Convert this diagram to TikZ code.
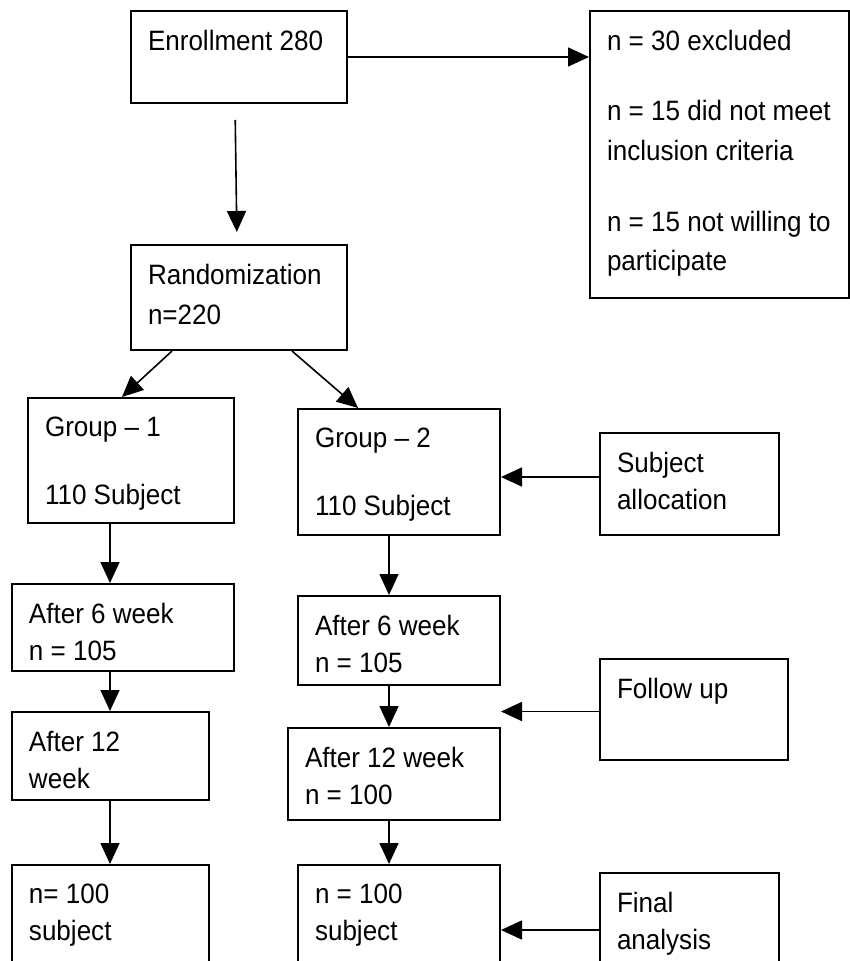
\documentclass[tikz,border=0pt]{standalone}
\usepackage{fontspec}
\setmainfont{Liberation Sans}[FakeStretch=0.93]
\usetikzlibrary{arrows.meta}
\newcommand{\boxtext}[3]{\parbox[t][#2pt][t]{#1pt}{\raggedright\leftskip=17pt\vspace*{19pt}#3}}
\tikzset{
  cbox/.style={draw, line width=2pt, anchor=north west, inner sep=0pt,
    font=\fontsize{28pt}{37pt}\selectfont},
  arr/.style={-{Triangle[length=21pt,width=19pt]}, line width=1.6pt}
}
\begin{document}
\begin{tikzpicture}[x=1pt,y=-1pt]
      \useasboundingbox (0,0) rectangle (850,961);
      \clip (0,0) rectangle (850,961);
      \draw
        (130,10) node[cbox] (enrol){\boxtext{216}{92}{Enrollment 280}}
        (589,10) node[cbox] (excl){\boxtext{259}{287}{n = 30 excluded\\[33pt]n = 15 did not meet\\[3pt]inclusion criteria\\[34pt]n = 15 not willing to\\[2pt]participate}}
        (130,244) node[cbox] (rand){\boxtext{216}{105}{Randomization\\[3pt]n=220}}
        (27,397) node[cbox] (g1){\boxtext{206}{125}{Group -- 1\\[31pt]110 Subject}}
        (297,408) node[cbox] (g2){\boxtext{202}{126}{Group -- 2\\[31pt]110 Subject}}
        (599,432) node[cbox] (alloc){\boxtext{179}{102}{Subject\\allocation}}
        (11,583) node[cbox] (g1w6){\boxtext{222}{87}{After 6 week\\n = 105}}
        (297,595) node[cbox] (g2w6){\boxtext{202}{89}{After 6 week\\n = 105}}
        (599,658) node[cbox] (fup){\boxtext{188}{101}{Follow up}}
        (11,711) node[cbox] (g1w12){\boxtext{197}{88}{After 12\\week}}
        (287,727) node[cbox] (g2w12){\boxtext{212}{92}{After 12 week\\n = 100}}
        (11,864) node[cbox] (g1end){\boxtext{197}{130}{n= 100\\subject}}
        (297,864) node[cbox] (g2end){\boxtext{202}{130}{n = 100\\subject}}
        (599,872) node[cbox] (final){\boxtext{179}{114}{Final\\analysis}};
      \coordinate (colA) at (110,0);
      \coordinate (colB) at (389,0);
      \begin{scope}[arr]
        \draw (enrol.east) to (enrol.east -| excl.west);
        \draw[shorten <=16pt, shorten >=12pt] ([xshift=-4pt]enrol.south) to ([xshift=-2pt]rand.north);
        \draw ([xshift=42pt]rand.south west) to ([xshift=95pt]g1.north west);
        \draw ([xshift=-56pt]rand.south east) to ([xshift=61pt]g2.north west);
        \draw (g1.south -| colA) to (g1w6.north -| colA);
        \draw (g1w6.south -| colA) to (g1w12.north -| colA);
        \draw (g1w12.south -| colA) to (g1end.north -| colA);
        \draw (g2.south -| colB) to (g2w6.north -| colB);
        \draw (g2w6.south -| colB) to (g2w12.north -| colB);
        \draw (g2w12.south -| colB) to (g2end.north -| colB);
        \draw ([yshift=7pt]alloc.west) to ([yshift=7pt]alloc.west -| g2.east);
        \draw ([yshift=-2pt]fup.west) to ([yshift=-2pt]fup.west -| g2w6.east);
        \draw (final.west) to (final.west -| g2end.east);
      \end{scope}
    \end{tikzpicture}
\end{document}
